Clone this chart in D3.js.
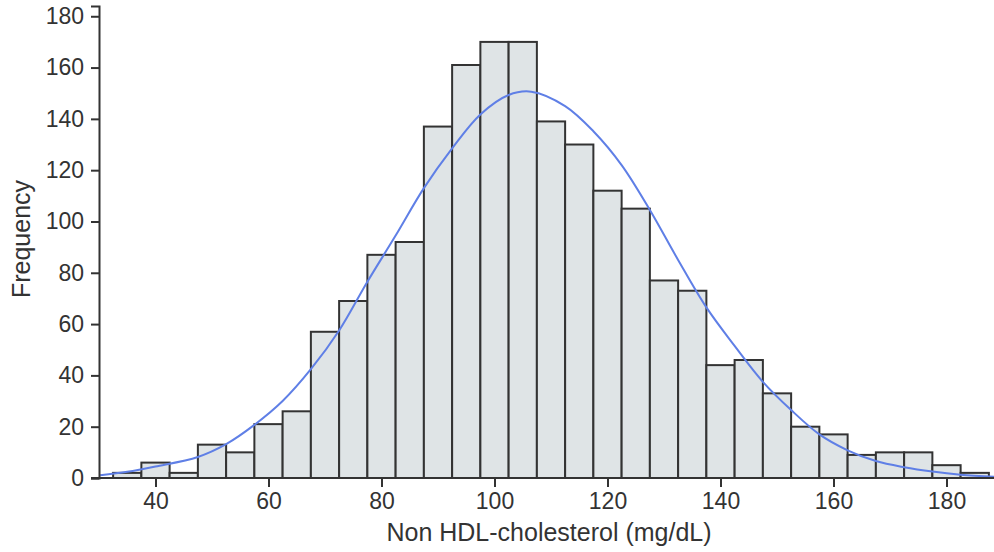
<!DOCTYPE html>
<html>
<head>
<meta charset="utf-8">
<script src="https://cdn.jsdelivr.net/npm/d3@7"></script>
<style>
  html, body { margin: 0; padding: 0; background: #fff; }
  svg { display: block; }
  text { font-family: "Liberation Sans", Arial, Helvetica, sans-serif; fill: #333; }
</style>
</head>
<body>
<svg id="chart" width="994" height="552"></svg>
<script>
// ---- data ----
const binLower = [32.5, 37.5, 42.5, 47.5, 52.5, 57.5, 62.5, 67.5, 72.5, 77.5, 82.5, 87.5, 92.5, 97.5, 102.5, 107.5, 112.5, 117.5, 122.5, 127.5, 132.5, 137.5, 142.5, 147.5, 152.5, 157.5, 162.5, 167.5, 172.5, 177.5, 182.5];
const binUpper = [37.5, 42.5, 47.5, 52.5, 57.5, 62.5, 67.5, 72.5, 77.5, 82.5, 87.5, 92.5, 97.5, 102.5, 107.5, 112.5, 117.5, 122.5, 127.5, 132.5, 137.5, 142.5, 147.5, 152.5, 157.5, 162.5, 167.5, 172.5, 177.5, 182.5, 187.5];
const counts = [2, 6, 2, 13, 10, 21, 26, 57, 69, 87, 92, 137, 161, 170, 170, 139, 130, 112, 105, 77, 73, 44, 46, 33, 20, 17, 9, 10, 10, 5, 2];

// fitted curve, points
const curveX = [30.2, 35, 40, 47.5, 52.5, 57.5, 62.5, 67.5, 72.5, 77.5, 82.5, 87.5, 92.5, 97.5, 102.5, 106.5, 112.5, 117.5, 122.5, 127.5, 132.5, 137.5, 142.5, 147.5, 152.5, 157.5, 162.5, 167.5, 172.5, 177.5, 182.5, 188.5];
const curveY = [1.05, 2.4, 4.5, 8.2, 13.2, 20.7, 30, 42.4, 57.5, 76.5, 94.5, 113, 128.5, 141.7, 149.3, 150.6, 145, 135.2, 122, 104.5, 85, 66.5, 51.5, 37.5, 26.5, 17, 10.8, 6.6, 4.2, 2.5, 1.3, 0.5];

const xTicks = [40, 60, 80, 100, 120, 140, 160, 180];
const yTicks = [0, 20, 40, 60, 80, 100, 120, 140, 160, 180];
const xLabel = "Non HDL-cholesterol (mg/dL)";
const yLabel = "Frequency";

// ---- drawing ----
const svg = d3.select("#chart");
const x = d3.scaleLinear().domain([30, 190]).range([99, 1003]);
const y = d3.scaleLinear().domain([0, 184]).range([478, 6]);

const bars = binLower.map((lo, i) => ({ lo, hi: binUpper[i], n: counts[i] }));

svg.append("g").selectAll("rect").data(bars).join("rect")
  .attr("x", d => x(d.lo))
  .attr("y", d => y(d.n))
  .attr("width", d => x(d.hi) - x(d.lo))
  .attr("height", d => y(0) - y(d.n))
  .attr("fill", "#dfe4e6")
  .attr("stroke", "#333")
  .attr("stroke-width", 2);

const pts = curveX.map((v, i) => [v, curveY[i]]);
svg.append("path")
  .datum(pts)
  .attr("fill", "none")
  .attr("stroke", "#5f7fe6")
  .attr("stroke-width", 2)
  .attr("d", d3.line().x(d => x(d[0])).y(d => y(d[1])).curve(d3.curveCatmullRom.alpha(0.5)));

const xAxis = svg.append("g")
  .attr("transform", `translate(0,${y(0)})`)
  .call(d3.axisBottom(x).tickValues(xTicks).tickSize(9).tickPadding(6).tickFormat(d3.format("d")));
xAxis.select(".domain").attr("d", `M${x(30) - 8},0H994`);

const yAxis = svg.append("g")
  .attr("transform", `translate(${x(30)},0)`)
  .call(d3.axisLeft(y).tickValues(yTicks).tickSize(8).tickPadding(7).tickFormat(d3.format("d")));

[xAxis, yAxis].forEach(a => {
  a.select(".domain").attr("stroke", "#333").attr("stroke-width", 2);
  a.selectAll(".tick line").attr("stroke", "#333").attr("stroke-width", 2);
  a.selectAll(".tick text").attr("fill", "#333").style("font-size", "23px")
    .style("font-family", '"Liberation Sans", Arial, sans-serif');
});

svg.append("text")
  .attr("x", 549).attr("y", 541)
  .attr("text-anchor", "middle")
  .style("font-size", "25px")
  .text(xLabel);

svg.append("text")
  .attr("transform", "translate(30,239) rotate(-90)")
  .attr("text-anchor", "middle")
  .style("font-size", "25px")
  .text(yLabel);
</script>
</body>
</html>
